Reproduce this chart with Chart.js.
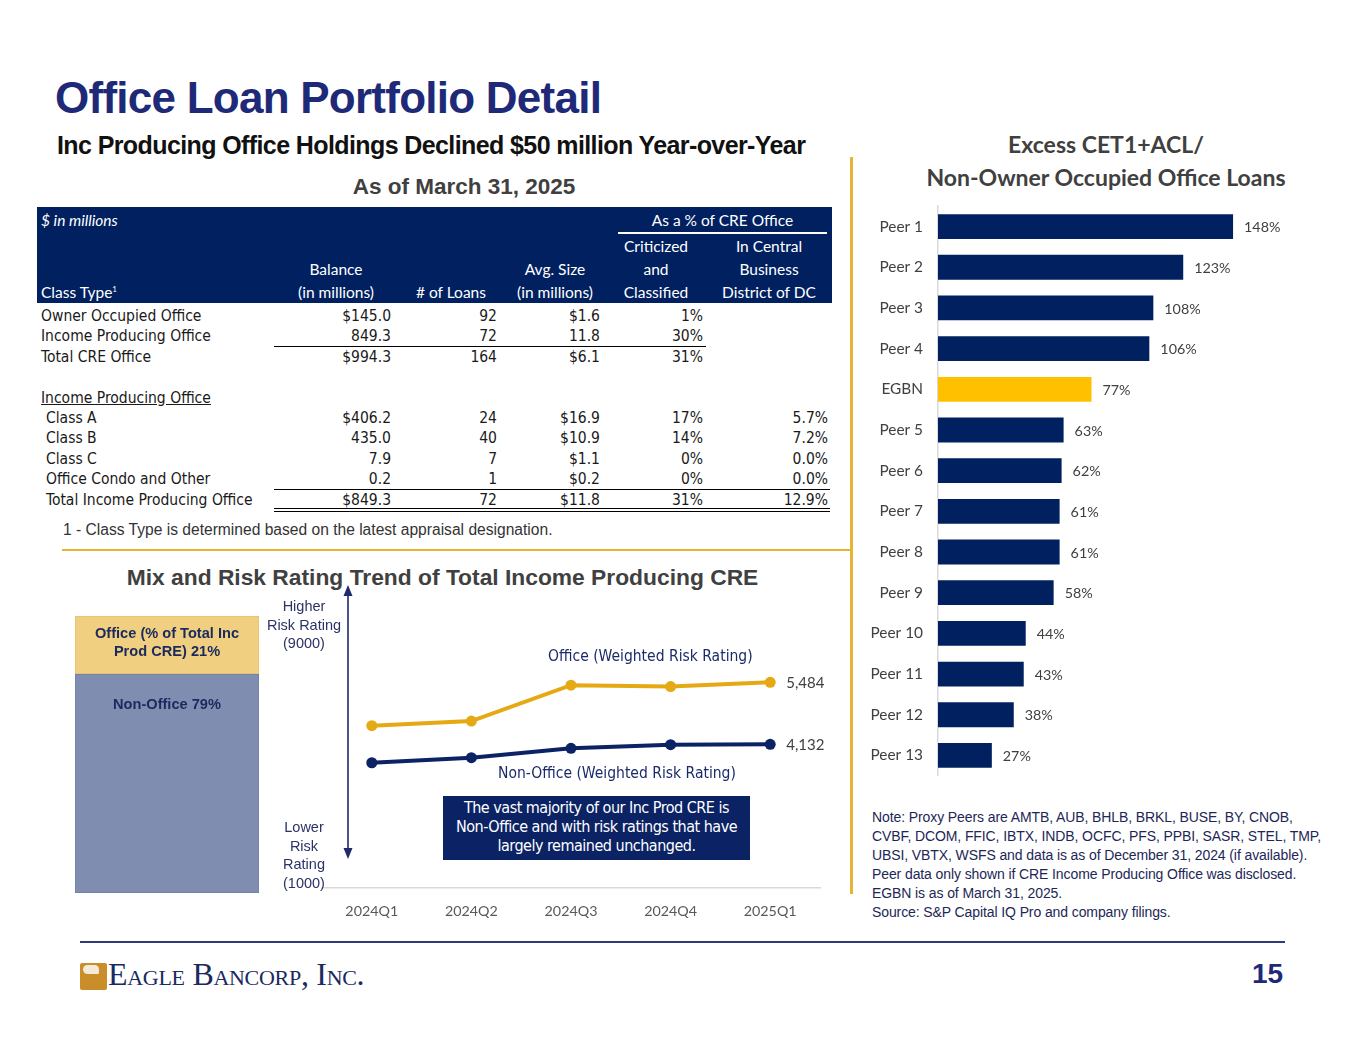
<!DOCTYPE html>
<html>
<head>
<meta charset="utf-8">
<script src="https://cdn.jsdelivr.net/npm/chart.js@4.4.1/dist/chart.umd.min.js"></script>
<style>
  html, body { margin: 0; padding: 0; background: #fff; }
  #page { position: relative; width: 1365px; height: 1055px; overflow: hidden; background: #fff; font-family: "Liberation Sans", Arial, sans-serif; }
  .abs { position: absolute; white-space: nowrap; }
  .narrow { font-family: "Liberation Sans Narrow", "DejaVu Sans Condensed", "Liberation Sans", sans-serif; }
  .cal { font-family: Lato, "Open Sans", sans-serif; }
  #title { left: 55px; top: 73px; font-size: 44px; font-weight: bold; color: #1e2a78; letter-spacing: -0.75px; }
  #subtitle { left: 57px; top: 131px; font-size: 25px; font-weight: bold; color: #111; letter-spacing: -0.6px; }
  #asof { left: 314px; width: 300px; text-align: center; top: 174px; font-size: 22.5px; font-weight: bold; color: #404040; }
  #tblHead { left: 37px; top: 207px; width: 795px; height: 96px; background: #002060; }
  .th { color: #fff; font-size: 15.5px; }
  .td { font-size: 15.5px; color: #1a1a1a; height: 20px; line-height: 20px; }
  #foot1 { left: 63px; top: 521px; font-size: 15.6px; color: #333; }
  #mixTitle { left: 60px; width: 765px; text-align: center; top: 564px; font-size: 22.8px; font-weight: bold; color: #404040; }
  .axnote { font-size: 14.5px; color: #2a3366; text-align: center; line-height: 18.5px; }
  .serlab { font-size: 15.5px; color: #1b2a6b; }
  #callout { left: 443px; top: 796px; width: 307px; height: 64px; background: #0b2265; color: #fff; font-size: 16px; text-align: center; line-height: 19px; padding-top: 2px; box-sizing: border-box; letter-spacing: -0.5px; }
  #barTitle { left: 860px; width: 492px; text-align: center; top: 128px; font-size: 23px; font-weight: bold; color: #404040; line-height: 33px; }
  #note { left: 872px; top: 808px; font-size: 14px; color: #1d2756; line-height: 19px; letter-spacing: -0.1px; }
  #pnum { left: 1252px; top: 958px; font-size: 28px; font-weight: bold; color: #1e2a78; }
  #logo { left: 80px; top: 958px; }
</style>
</head>
<body>
<div id="page">
  <div class="abs" id="title">Office Loan Portfolio Detail</div>
  <div class="abs" id="subtitle">Inc Producing Office Holdings Declined $50 million Year-over-Year</div>
  <div class="abs" id="asof">As of March 31, 2025</div>

  <div class="abs" id="tblHead"></div>
  <div id="tbl"></div>
  <div class="abs" id="foot1">1 - Class Type is determined based on the latest appraisal designation.</div>

  <div class="abs" style="left:850px;top:157px;width:2.5px;height:737px;background:#e8b437;"></div>
  <div class="abs" style="left:62px;top:549px;width:789px;height:2px;background:#e8b437;"></div>
  <div class="abs" style="left:80px;top:941px;width:1205px;height:1.5px;background:#2e3a7a;"></div>

  <div class="abs" id="mixTitle">Mix and Risk Rating Trend of Total Income Producing CRE</div>
  <canvas id="mixChart" class="abs" style="left:75px;top:616px;"></canvas>
  <canvas id="riskChart" class="abs" style="left:300px;top:500px;"></canvas>
  <svg class="abs" style="left:338px;top:585px;" width="20" height="275">
    <line x1="10" y1="8" x2="10" y2="266" stroke="#1f2a6b" stroke-width="1.6"/>
    <polygon points="10,0 5.5,11 14.5,11" fill="#1f2a6b"/>
    <polygon points="10,274 5.5,263 14.5,263" fill="#1f2a6b"/>
  </svg>
  <div class="abs axnote" style="left:254px;width:100px;top:597px;">Higher<br>Risk Rating<br>(9000)</div>
  <div class="abs axnote" style="left:254px;width:100px;top:818px;">Lower<br>Risk<br>Rating<br>(1000)</div>
  <div class="abs serlab narrow" style="left:548px;top:647px;">Office (Weighted Risk Rating)</div>
  <div class="abs serlab narrow" style="left:498px;top:764px;">Non-Office (Weighted Risk Rating)</div>
  <div class="abs narrow" id="callout">The vast majority of our Inc Prod CRE is<br>Non-Office and with risk ratings that have<br>largely remained unchanged.</div>

  <div class="abs cal" id="barTitle">Excess CET1+ACL/<br>Non-Owner Occupied Office Loans</div>
  <canvas id="peerChart" class="abs" style="left:860px;top:182px;"></canvas>
  <div class="abs" id="note">Note: Proxy Peers are AMTB, AUB, BHLB, BRKL, BUSE, BY, CNOB,<br>CVBF, DCOM, FFIC, IBTX, INDB, OCFC, PFS, PPBI, SASR, STEL, TMP,<br>UBSI, VBTX, WSFS and data is as of December 31, 2024 (if available).<br>Peer data only shown if CRE Income Producing Office was disclosed.<br>EGBN is as of March 31, 2025.<br>Source: S&amp;P Capital IQ Pro and company filings.</div>

  <div class="abs" id="logo">
    <div style="position:absolute;left:0;top:5px;width:27px;height:27px;background:#c98e2a;border-radius:2px;"></div>
    <div style="position:absolute;left:3px;top:7px;width:16px;height:9px;background:#f3ead8;border-radius:8px 8px 2px 8px;"></div>
    <div style="position:absolute;left:28px;top:-2px;font-family:'Liberation Serif','DejaVu Serif',serif;font-size:32px;color:#1b2a5e;font-variant:small-caps;letter-spacing:-0.3px;white-space:nowrap;">Eagle Bancorp, Inc.</div>
  </div>
  <div class="abs" id="pnum">15</div>
</div>

<script>
// Table data
const classTypes = ['Owner Occupied Office', 'Income Producing Office', 'Total CRE Office', '', 'Income Producing Office', 'Class A', 'Class B', 'Class C', 'Office Condo and Other', 'Total Income Producing Office'];
const balances = ['$145.0', '849.3', '$994.3', '', '', '$406.2', '435.0', '7.9', '0.2', '$849.3'];
const loanCounts = ['92', '72', '164', '', '', '24', '40', '7', '1', '72'];
const avgSizes = ['$1.6', '11.8', '$6.1', '', '', '$16.9', '$10.9', '$1.1', '$0.2', '$11.8'];
const criticizedPct = ['1%', '30%', '31%', '', '', '17%', '14%', '0%', '0%', '31%'];
const cbdPct = ['', '', '', '', '', '5.7%', '7.2%', '0.0%', '0.0%', '12.9%'];

// Mix of total income producing CRE
const mixLabels = ['Non-Office 79%', 'Office (% of Total Inc|Prod CRE) 21%'];
const mixValues = [79, 21];

// Weighted risk rating trend
const quarters = ['2024Q1', '2024Q2', '2024Q3', '2024Q4', '2025Q1'];
const officeRisk = [4538, 4640, 5420, 5390, 5484];
const nonOfficeRisk = [3730, 3840, 4045, 4125, 4132];

// Peer comparison
const peerNames = ['Peer 1', 'Peer 2', 'Peer 3', 'Peer 4', 'EGBN', 'Peer 5', 'Peer 6', 'Peer 7', 'Peer 8', 'Peer 9', 'Peer 10', 'Peer 11', 'Peer 12', 'Peer 13'];
const peerValues = [148, 123, 108, 106, 77, 63, 62, 61, 61, 58, 44, 43, 38, 27];

// Build the table
function renderTable() {
  const tbl = document.getElementById('tbl');
  const add = (html, css, cls) => {
    const d = document.createElement('div');
    d.className = 'abs ' + (cls || '');
    d.style.cssText = css;
    d.innerHTML = html;
    tbl.appendChild(d);
  };
  // header
  add('<i>$ in millions</i>', 'left:41px;top:211px;', 'th cal');
  add('As a % of CRE Office', 'left:618px;width:209px;text-align:center;top:211px;', 'th cal');
  add('', 'left:618px;top:232px;width:209px;height:1.5px;background:#fff;');
  const hdr = [
    ['', '', '', '', 'Criticized', 'In Central'],
    ['', 'Balance', '', 'Avg. Size', 'and', 'Business'],
    ['Class Type<sup style="font-size:8px">1</sup>', '(in millions)', '# of Loans', '(in millions)', 'Classified', 'District of DC']
  ];
  const centers = [0, 336, 451, 555, 656, 769];
  hdr.forEach((row, r) => {
    row.forEach((txt, c) => {
      if (!txt) return;
      const top = 237 + r * 23;
      if (c === 0) add(txt, 'left:41px;top:' + top + 'px;', 'th cal');
      else add(txt, 'left:' + (centers[c] - 60) + 'px;width:120px;text-align:center;top:' + top + 'px;', 'th cal');
    });
  });
  // body
  const rights = [0, 391, 497, 600, 703, 828];
  const cols = [classTypes, balances, loanCounts, avgSizes, criticizedPct, cbdPct];
  classTypes.forEach((name, i) => {
    const top = 306 + i * 20.4;
    const indent = i >= 5 ? 46 : 41;
    let label = name;
    if (i === 4) label = '<span style="text-decoration:underline">' + name + '</span>';
    add(label, 'left:' + indent + 'px;top:' + top + 'px;', 'td narrow');
    for (let c = 1; c < cols.length; c++) {
      if (!cols[c][i]) continue;
      add(cols[c][i], 'left:' + (rights[c] - 100) + 'px;width:100px;text-align:right;top:' + top + 'px;', 'td narrow');
    }
  });
  add('', 'left:274px;top:346px;width:432px;height:1px;background:#000;');
  add('', 'left:274px;top:489px;width:556px;height:1px;background:#000;');
  add('', 'left:274px;top:508px;width:556px;height:1px;background:#000;');
  add('', 'left:274px;top:511px;width:556px;height:1px;background:#000;');
}

// Stacked mix bar
function renderMixChart() {
  const el = document.getElementById('mixChart');
  el.width = 184; el.height = 277;
  el.style.width = '184px'; el.style.height = '277px';
  const mixText = {
    id: 'mixText',
    afterDatasetsDraw(chart) {
      const { ctx } = chart;
      ctx.save();
      ctx.font = 'bold 14.6px "Liberation Sans", Arial';
      ctx.fillStyle = '#1b2a5e';
      ctx.textAlign = 'center';
      ctx.textBaseline = 'middle';
      const top = chart.getDatasetMeta(1).data[0];
      const bot = chart.getDatasetMeta(0).data[0];
      const lines = mixLabels[1].split('|');
      ctx.fillText(lines[0], top.x, top.y + 18);
      ctx.fillText(lines[1], top.x, top.y + 36);
      ctx.fillText(mixLabels[0], bot.x, bot.y + 31);
      ctx.restore();
    }
  };
  new Chart(el, {
    type: 'bar',
    data: {
      labels: ['Mix'],
      datasets: [
        { data: [mixValues[0]], backgroundColor: '#7f8eb0', borderColor: '#7080a5', borderWidth: 1, borderSkipped: false },
        { data: [mixValues[1]], backgroundColor: '#f0cf80', borderColor: '#e6c070', borderWidth: 1, borderSkipped: false }
      ]
    },
    options: {
      responsive: false,
      animation: false,
      layout: { padding: 0 },
      datasets: { bar: { barPercentage: 1, categoryPercentage: 1 } },
      scales: {
        x: { display: false, stacked: true },
        y: { display: false, stacked: true, min: 0, max: 100 }
      },
      plugins: { legend: { display: false }, tooltip: { enabled: false } }
    },
    plugins: [mixText]
  });
}

// Risk rating trend lines
function renderRiskChart() {
  const el = document.getElementById('riskChart');
  el.width = 530; el.height = 430;
  el.style.width = '530px'; el.style.height = '430px';
  const endLabels = {
    id: 'endLabels',
    afterDatasetsDraw(chart) {
      const { ctx } = chart;
      ctx.save();
      ctx.font = '15px Lato, "Open Sans"';
      ctx.fillStyle = '#404040';
      ctx.textBaseline = 'middle';
      chart.data.datasets.forEach((ds, i) => {
        const pts = chart.getDatasetMeta(i).data;
        const last = pts[pts.length - 1];
        const v = ds.data[ds.data.length - 1];
        ctx.fillText(v.toLocaleString('en-US'), last.x + 16, last.y + 1);
      });
      ctx.restore();
    }
  };
  new Chart(el, {
    type: 'line',
    data: {
      labels: quarters,
      datasets: [
        { label: 'Office (Weighted Risk Rating)', data: officeRisk, borderColor: '#e5a914', backgroundColor: '#e5a914', borderWidth: 4, pointRadius: 5.5, pointBorderWidth: 0, tension: 0 },
        { label: 'Non-Office (Weighted Risk Rating)', data: nonOfficeRisk, borderColor: '#0b2265', backgroundColor: '#0b2265', borderWidth: 4, pointRadius: 5.5, pointBorderWidth: 0, tension: 0 }
      ]
    },
    options: {
      responsive: false,
      animation: false,
      layout: { padding: { left: 22, right: 10, top: 21, bottom: 0 } },
      scales: {
        x: {
          offset: true,
          grid: { display: false, drawTicks: false },
          border: { display: true, color: '#d9d9d9', width: 1.5 },
          ticks: { color: '#595959', font: { family: 'Lato', size: 14.3 }, padding: 15 },
          afterFit(scale) { scale.height = 42; }
        },
        y: { display: false, min: 1000, max: 9000 }
      },
      plugins: { legend: { display: false }, tooltip: { enabled: false } }
    },
    plugins: [endLabels]
  });
}

// Peer horizontal bars
function renderPeerChart() {
  const el = document.getElementById('peerChart');
  el.width = 470; el.height = 618;
  el.style.width = '470px'; el.style.height = '618px';
  const valueLabels = {
    id: 'valueLabels',
    afterDatasetsDraw(chart) {
      const { ctx } = chart;
      ctx.save();
      ctx.font = '14.3px Lato, "Open Sans"';
      ctx.fillStyle = '#404040';
      ctx.textBaseline = 'middle';
      chart.getDatasetMeta(0).data.forEach((bar, i) => {
        ctx.fillText(peerValues[i] + '%', bar.x + 11, bar.y + 1);
      });
      ctx.restore();
    }
  };
  new Chart(el, {
    type: 'bar',
    data: {
      labels: peerNames,
      datasets: [{
        data: peerValues,
        backgroundColor: peerNames.map(n => n === 'EGBN' ? '#ffc000' : '#002060'),
        barPercentage: 0.61,
        categoryPercentage: 1
      }]
    },
    options: {
      indexAxis: 'y',
      responsive: false,
      animation: false,
      layout: { padding: { left: 0, right: 73, top: 8, bottom: 7 } },
      scales: {
        x: { display: false, min: 0, max: 160 },
        y: {
          grid: { display: false, drawTicks: false },
          border: { display: true, color: '#d9d9d9', width: 1.5 },
          ticks: { color: '#404040', font: { family: 'Lato', size: 15.4 }, padding: 15 },
          afterFit(scale) { scale.width = 78; }
        }
      },
      plugins: { legend: { display: false }, tooltip: { enabled: false } }
    },
    plugins: [valueLabels]
  });
}

function init() {
  renderTable();
  renderMixChart();
  renderRiskChart();
  renderPeerChart();
}

init();
</script>
</body>
</html>
